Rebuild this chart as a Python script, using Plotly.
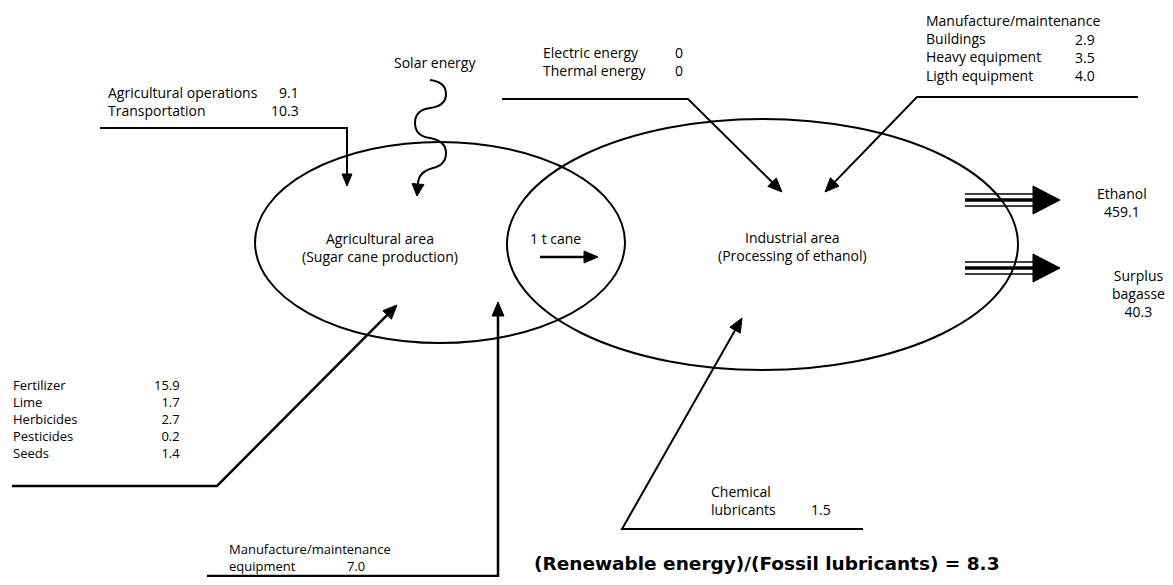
import math
import plotly.graph_objects as go

W, H = 1173, 585
PAD = 8  # default page body margin; data coords == page pixels

# ---------------- data ----------------
agri_ops_labels = ["Agricultural operations", "Transportation"]
agri_ops_values = [9.1, 10.3]
agri_input_labels = ["Fertilizer", "Lime", "Herbicides", "Pesticides", "Seeds"]
agri_input_values = [15.9, 1.7, 2.7, 0.2, 1.4]
equip_labels = ["Manufacture/maintenance", "equipment"]
equip_value = 7.0
energy_labels = ["Electric energy", "Thermal energy"]
energy_values = [0, 0]
maint_header = "Manufacture/maintenance"
maint_labels = ["Buildings", "Heavy equipment", "Ligth equipment"]
maint_values = [2.9, 3.5, 4.0]
lubricant_labels = ["Chemical", "lubricants"]
lubricant_value = 1.5
output_labels = ["Ethanol", "Surplus<br>bagasse"]
output_values = [459.1, 40.3]
area_labels = ["Agricultural area<br>(Sugar cane production)", "Industrial area<br>(Processing of ethanol)"]
solar_label = "Solar energy"
cane_label = "1 t cane"
ratio_label = "(Renewable energy)/(Fossil lubricants)"
ratio_value = 8.3

FONT = "Open Sans"
FS = 14
shapes = []
annotations = []


def fmt(v):
    return str(v) if isinstance(v, int) else f"{v:.1f}"


def text(x, y, s, anchor="left", size=FS, bold=False, family=FONT):
    if bold:
        s = f"<b>{s}</b>"
    annotations.append(dict(x=x, y=y, xref="x", yref="y", text=s, showarrow=False,
                            xanchor=anchor, yanchor="middle", align=anchor,
                            borderpad=0,
                            font=dict(family=family, size=size, color="black")))


def poly(points, width=2.0):
    d = "M " + " L ".join(f"{x} {y}" for x, y in points)
    shapes.append(dict(type="path", path=d, xref="x", yref="y",
                       line=dict(color="black", width=width)))


def head(tip, frm, L=12, hw=5):
    dx, dy = tip[0] - frm[0], tip[1] - frm[1]
    n = math.hypot(dx, dy)
    ux, uy = dx / n, dy / n
    bx, by = tip[0] - ux * L, tip[1] - uy * L
    px, py = -uy, ux
    d = (f"M {tip[0]} {tip[1]} L {bx + px * hw} {by + py * hw} "
         f"L {bx - px * hw} {by - py * hw} Z")
    shapes.append(dict(type="path", path=d, xref="x", yref="y", fillcolor="black",
                       line=dict(color="black", width=1)))


def arrow(points, L=12, hw=5, width=2.0):
    tip, frm = points[-1], points[-2]
    dx, dy = tip[0] - frm[0], tip[1] - frm[1]
    n = math.hypot(dx, dy)
    end = (tip[0] - dx / n * (L - 2), tip[1] - dy / n * (L - 2))
    poly(points[:-1] + [end], width)
    head(tip, frm, L, hw)


# ---------------- ellipses ----------------
shapes.append(dict(type="circle", xref="x", yref="y", x0=255, x1=625, y0=142, y1=343,
                   line=dict(color="black", width=2)))
shapes.append(dict(type="circle", xref="x", yref="y", x0=507, x1=1018, y0=119, y1=370,
                   line=dict(color="black", width=2)))

# area labels
text(380, 247, area_labels[0], anchor="center")
text(792, 246, area_labels[1], anchor="center")

# 1 t cane
text(555, 238, cane_label, anchor="center")
arrow([(540, 257), (598, 257)], L=14, hw=6, width=2.5)

# ---------------- solar energy ----------------
text(435, 62, solar_label, anchor="center")
shapes.append(dict(type="path", xref="x", yref="y",
                   path=("M 430 80 Q 446 82 446 94 Q 446 106 430 108 Q 415 110 415 123 "
                         "Q 415 136 430 138 Q 446 141 446 153 Q 446 165 433 168 "
                         "Q 418 172 418 184"),
                   line=dict(color="black", width=2)))
head((417, 196), (418, 184), L=12, hw=6)

# ---------------- agricultural operations ----------------
text(107, 101.5, "<br>".join(agri_ops_labels))
text(300, 101.5, "<br>".join(fmt(v) for v in agri_ops_values), anchor="right")
arrow([(100, 128), (347, 128), (347, 186)], L=12, hw=5)

# ---------------- agricultural inputs ----------------
text(12, 419, "<br>".join(agri_input_labels), size=13)
text(181, 419, "<br>".join(fmt(v) for v in agri_input_values), anchor="right", size=13)
arrow([(12, 486), (217, 486), (397, 305)], L=14, hw=6, width=2.5)

# ---------------- equipment ----------------
text(228, 557, "<br>".join(equip_labels), size=13)
text(346, 565.5, fmt(equip_value), size=13)
arrow([(207, 576), (498, 576), (498, 302)], L=14, hw=6, width=2.5)

# ---------------- energy ----------------
text(542, 61.5, "<br>".join(energy_labels))
text(674, 61.5, "<br>".join(fmt(v) for v in energy_values))
arrow([(502, 99), (688, 99), (782, 192)], L=14, hw=6)

# ---------------- manufacture / maintenance (industrial) ----------------
text(925, 48, "<br>".join([maint_header] + maint_labels))
text(1096, 57, "<br>".join(fmt(v) for v in maint_values), anchor="right")
arrow([(1138, 97), (917, 97), (825, 192)], L=14, hw=6)

# ---------------- chemical lubricants ----------------
text(710, 500, "<br>".join(lubricant_labels))
text(810, 509, fmt(lubricant_value))
arrow([(863, 529), (622, 529), (742, 318)], L=14, hw=6)

# ---------------- outputs ----------------
for yc in (200, 268):
    poly([(965, yc - 6), (1036, yc - 6)], width=1.3)
    poly([(965, yc), (1036, yc)], width=3.5)
    poly([(965, yc + 6), (1036, yc + 6)], width=1.3)
    shapes.append(dict(type="path", xref="x", yref="y", fillcolor="black",
                       path=f"M 1060 {yc} L 1033 {yc - 14} L 1033 {yc + 14} Z",
                       line=dict(color="black", width=1)))
text(1122, 202, f"{output_labels[0]}<br>{fmt(output_values[0])}", anchor="center")
text(1138, 293, f"{output_labels[1]}<br>{fmt(output_values[1])}", anchor="center")

# ---------------- ratio ----------------
text(533, 563, f"{ratio_label} = {fmt(ratio_value)}", size=18.5, bold=True, family="DejaVu Sans")

fig = go.Figure()
fig.update_layout(
    width=W - 2 * PAD, height=H - 2 * PAD,
    margin=dict(l=0, r=0, t=0, b=0),
    paper_bgcolor="white", plot_bgcolor="white",
    xaxis=dict(range=[PAD, W - PAD], visible=False, fixedrange=True),
    yaxis=dict(range=[H - PAD, PAD], visible=False, fixedrange=True),
    shapes=shapes, annotations=annotations, showlegend=False,
)
fig.write_html("out.html")
